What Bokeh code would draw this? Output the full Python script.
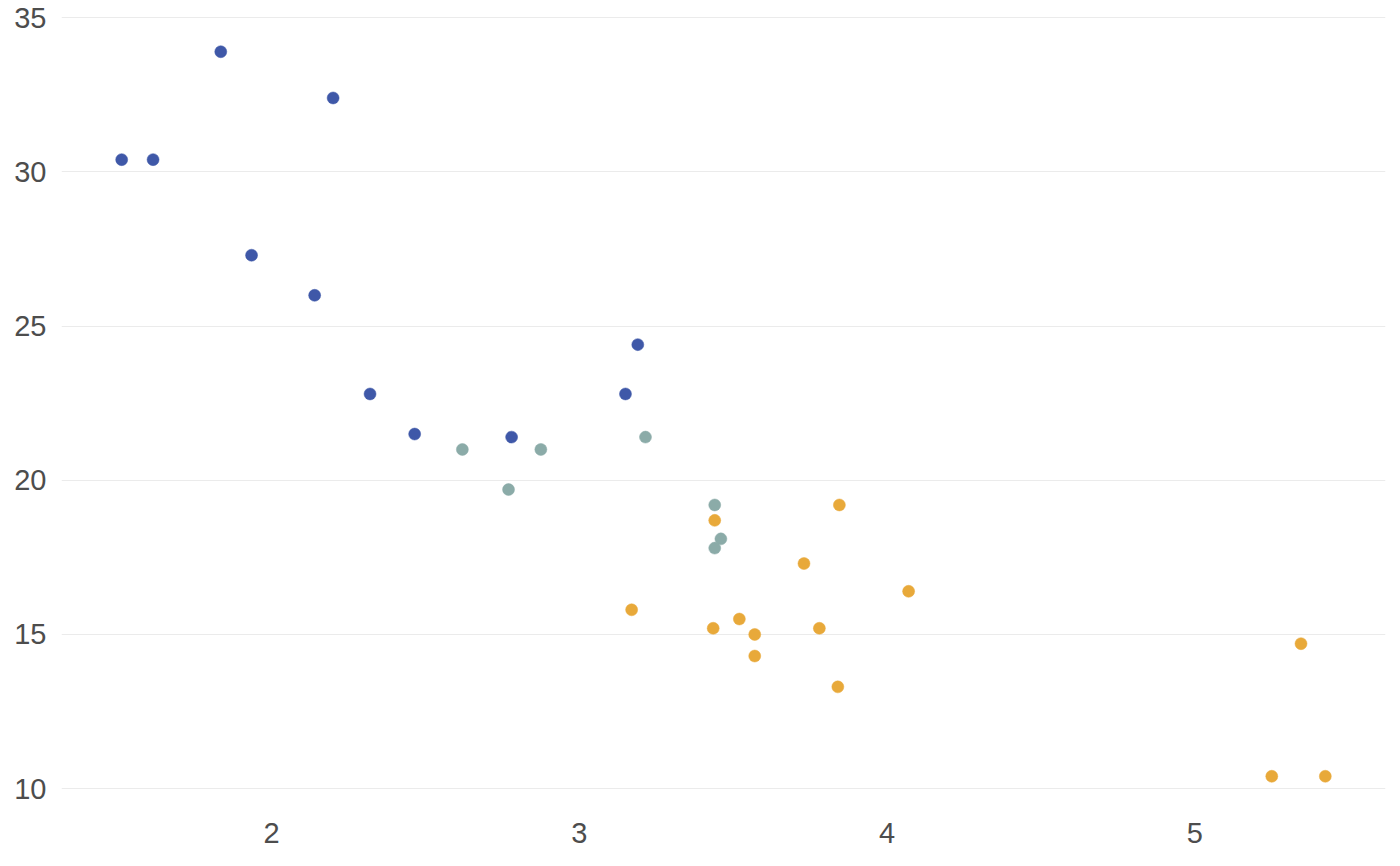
from bokeh.plotting import figure
from bokeh.models import ColumnDataSource, Range1d, FixedTicker
from bokeh.embed import file_html
from bokeh.resources import INLINE

# mtcars: weight (1000 lbs), mpg, cylinders
wt = [2.620, 2.875, 2.320, 3.215, 3.440, 3.460, 3.570, 3.190, 3.150, 3.440, 3.440,
      4.070, 3.730, 3.780, 5.250, 5.424, 5.345, 2.200, 1.615, 1.835, 2.465, 3.520,
      3.435, 3.840, 3.845, 1.935, 2.140, 1.513, 3.170, 2.770, 3.570, 2.780]
mpg = [21.0, 21.0, 22.8, 21.4, 18.7, 18.1, 14.3, 24.4, 22.8, 19.2, 17.8,
       16.4, 17.3, 15.2, 10.4, 10.4, 14.7, 32.4, 30.4, 33.9, 21.5, 15.5,
       15.2, 13.3, 19.2, 27.3, 26.0, 30.4, 15.8, 19.7, 15.0, 21.4]
cyl = [6, 6, 4, 6, 8, 6, 8, 4, 4, 6, 6,
       8, 8, 8, 8, 8, 8, 4, 4, 4, 4, 8,
       8, 8, 8, 4, 4, 4, 8, 6, 8, 4]
cyl_colors = {4: "#3F58A8", 6: "#8BABA8", 8: "#E8A93A"}
x_ticks = [2, 3, 4, 5]
y_ticks = [10, 15, 20, 25, 30, 35]

xmin, xmax = min(wt), max(wt)
ymin, ymax = min(mpg), max(mpg)
xpad = (xmax - xmin) * 0.05
ypad = (ymax - ymin) * 0.05

p = figure(width=1392, height=858, output_backend="svg", toolbar_location=None,
           x_range=Range1d(xmin - xpad, xmax + xpad),
           y_range=Range1d(ymin - ypad, ymax + ypad),
           min_border_left=61, min_border_right=7, min_border_top=15, min_border_bottom=46)

src = ColumnDataSource(dict(x=wt, y=mpg, c=[cyl_colors[k] for k in cyl]))
p.scatter("x", "y", source=src, size=12, fill_color="c", line_color="c", line_width=0.5)

p.outline_line_color = None
p.background_fill_color = "white"
p.xgrid.grid_line_color = None
p.ygrid.grid_line_color = "#EBEBEB"
p.ygrid.grid_line_width = 1

p.xaxis.ticker = FixedTicker(ticks=x_ticks)
p.yaxis.ticker = FixedTicker(ticks=y_ticks)
for ax in (p.xaxis[0], p.yaxis[0]):
    ax.axis_line_color = None
    ax.major_tick_line_color = None
    ax.minor_tick_line_color = None
    ax.major_tick_out = 0
    ax.major_tick_in = 0
    ax.minor_tick_out = 0
    ax.major_label_text_font = "Liberation Sans"
    ax.major_label_text_font_size = "29px"
    ax.major_label_text_color = "#4D4D4D"
p.yaxis.major_label_standoff = 15
p.xaxis.major_label_standoff = 10

open("out.html", "w").write(file_html(p, INLINE))
